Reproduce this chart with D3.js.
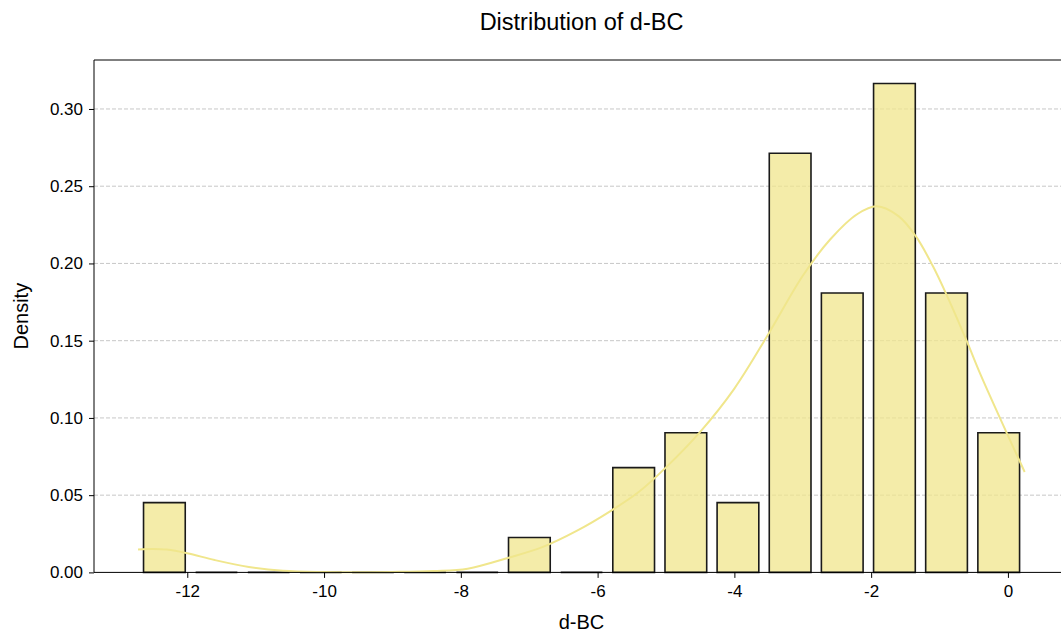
<!DOCTYPE html>
<html>
<head>
<meta charset="utf-8">
<script src="https://cdn.jsdelivr.net/npm/d3@7"></script>
<style>
  body { margin: 0; background: white; }
  text { font-family: "Liberation Sans", Arial, sans-serif; fill: #000; }
</style>
</head>
<body>
<div id="container"></div>
<script>
let w = 1061;
let h = 635;

// histogram bins (left edges), all same width
let binStarts = [-12.716, -11.954, -11.191, -10.429, -9.666, -8.904, -8.141, -7.379, -6.616,
                 -5.854, -5.091, -4.329, -3.566, -2.804, -2.041, -1.279, -0.516];
let binWidth = 0.7625;
let densities = [0.0452, 0, 0, 0, 0, 0, 0, 0.0226, 0, 0.0678, 0.0904, 0.0452,
                 0.2713, 0.1809, 0.3165, 0.1809, 0.0904];

// kde curve
let kdeX = [-12.72, -12.5, -12.3, -12.0, -11.6, -11.1, -10.6, -10.0, -9.5, -9.0, -8.4, -7.9,
            -7.3, -6.8, -6.3, -5.8, -5.4, -5.0, -4.5, -4.0, -3.5, -3.0, -2.6, -2.2, -1.92,
            -1.6, -1.35, -1.1, -0.9, -0.6, -0.4, -0.02, 0.245];
let kdeY = [0.0149, 0.0152, 0.0148, 0.0124, 0.0080, 0.0035, 0.0010, 0.0002, 0.0001, 0.0003, 0.0009, 0.0024,
            0.0095, 0.0165, 0.0270, 0.0400, 0.0520, 0.0680, 0.0910, 0.1190, 0.1545, 0.1920, 0.2155, 0.2320, 0.2370,
            0.2306, 0.2178, 0.1985, 0.1800, 0.1495, 0.1280, 0.0905, 0.0650];

let xTicks = [-12, -10, -8, -6, -4, -2, 0];
let yTicks = [0, 0.05, 0.10, 0.15, 0.20, 0.25, 0.30];

let margin = {left: 94, right: 1069, top: 60, bottom: 572.4};

let x = d3.scaleLinear().domain([-13.364, 0.893]).range([margin.left, margin.right]);
let y = d3.scaleLinear().domain([0, 0.3317]).range([margin.bottom, margin.top]);

let viz = d3.select("#container")
  .append("svg")
    .attr("width", w)
    .attr("height", h)
    .style("background-color", "white");

// grid
viz.append("g")
  .selectAll("line")
  .data(yTicks.slice(1))
  .enter()
  .append("line")
    .attr("x1", margin.left)
    .attr("x2", margin.right)
    .attr("y1", d => y(d))
    .attr("y2", d => y(d))
    .attr("stroke", "#b0b0b0")
    .attr("stroke-opacity", 0.7)
    .attr("stroke-width", 1)
    .attr("stroke-dasharray", "4,2");

// bars (shrink 0.8) as paths so empty bins still show their outline
let shrink = 0.8;
viz.append("g")
  .selectAll("path")
  .data(binStarts)
  .enter()
  .append("path")
    .attr("d", (d, i) => {
      let x0 = x(d + binWidth * (1 - shrink) / 2);
      let x1 = x(d + binWidth * (1 + shrink) / 2);
      let y0 = y(0), y1 = y(densities[i]);
      return "M" + x0 + "," + y0 + "V" + y1 + "H" + x1 + "V" + y0 + "Z";
    })
    .attr("fill", "rgb(240,230,140)")
    .attr("fill-opacity", 0.75)
    .attr("stroke", "#1a1a1a")
    .attr("stroke-width", 1.6);

// kde line
let line = d3.line()
  .x((d, i) => x(kdeX[i]))
  .y((d) => y(d))
  .curve(d3.curveCatmullRom);

viz.append("path")
  .attr("d", line(kdeY))
  .attr("fill", "none")
  .attr("stroke", "rgb(240,230,140)")
  .attr("stroke-width", 2);

// axes
let xAxis = d3.axisBottom(x).tickValues(xTicks).tickSize(5.5).tickPadding(7)
  .tickFormat(d => String(d));
let yAxis = d3.axisLeft(y).tickValues(yTicks).tickSize(5).tickPadding(6)
  .tickFormat(d3.format(".2f"));

let gx = viz.append("g")
  .attr("transform", "translate(0," + margin.bottom + ")")
  .call(xAxis);
let gy = viz.append("g")
  .attr("transform", "translate(" + margin.left + ",0)")
  .call(yAxis);

[gx, gy].forEach(g => {
  g.select(".domain").remove();
  g.selectAll(".tick line").attr("stroke", "#000").attr("stroke-width", 1);
  g.selectAll(".tick text").style("font-size", "17px").attr("fill", "#000");
});

// spines
viz.append("line").attr("x1", margin.left).attr("x2", margin.left)
  .attr("y1", margin.top).attr("y2", margin.bottom)
  .attr("stroke", "#000").attr("stroke-width", 1);
viz.append("line").attr("x1", margin.left).attr("x2", margin.right)
  .attr("y1", margin.bottom).attr("y2", margin.bottom)
  .attr("stroke", "#000").attr("stroke-width", 1);
viz.append("line").attr("x1", margin.left).attr("x2", margin.right)
  .attr("y1", margin.top).attr("y2", margin.top)
  .attr("stroke", "#000").attr("stroke-width", 1);

// labels
viz.append("text")
  .attr("x", (margin.left + margin.right) / 2)
  .attr("y", 29.5)
  .attr("text-anchor", "middle")
  .style("font-size", "23.5px")
  .text("Distribution of d-BC");

viz.append("text")
  .attr("x", (margin.left + margin.right) / 2)
  .attr("y", 629)
  .attr("text-anchor", "middle")
  .style("font-size", "20px")
  .text("d-BC");

viz.append("text")
  .attr("transform", "translate(28," + (margin.top + margin.bottom) / 2 + ") rotate(-90)")
  .attr("text-anchor", "middle")
  .style("font-size", "20px")
  .text("Density");
</script>
</body>
</html>
